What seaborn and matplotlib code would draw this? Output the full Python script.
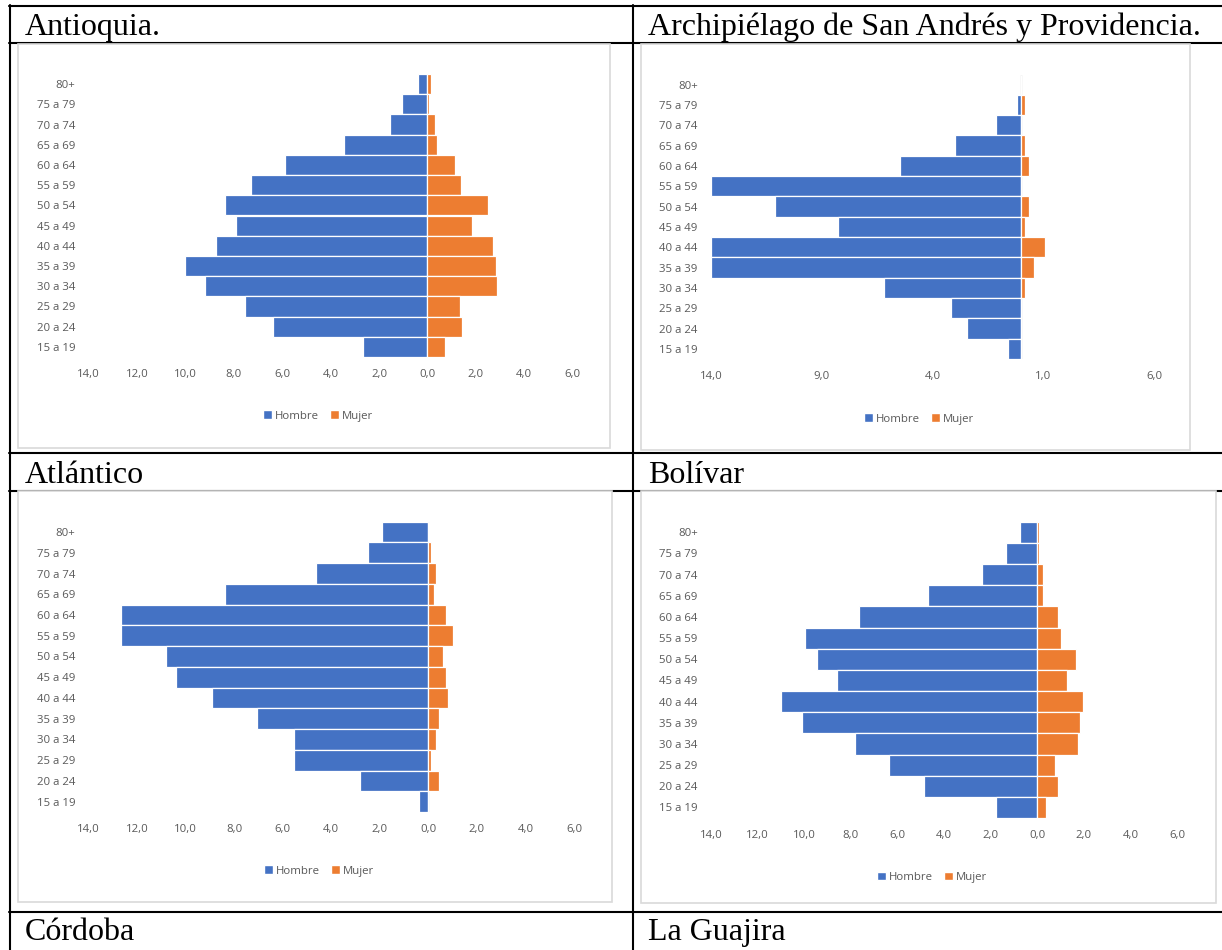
import matplotlib
matplotlib.use("Agg")
import matplotlib.pyplot as plt
import seaborn as sns
from matplotlib.lines import Line2D
from matplotlib.patches import Rectangle, Patch
from matplotlib.ticker import FuncFormatter

# age groups, top to bottom as drawn
ages = ['80+', '75 a 79', '70 a 74', '65 a 69', '60 a 64', '55 a 59', '50 a 54',
        '45 a 49', '40 a 44', '35 a 39', '30 a 34', '25 a 29', '20 a 24', '15 a 19']

# percentages (Hombre drawn to the left)
antioquia_h = [0.4, 1.05, 1.55, 3.45, 5.9, 7.3, 8.35, 7.9, 8.75, 10.0, 9.2, 7.55, 6.4, 2.65]
antioquia_m = [0.15, 0.05, 0.32, 0.4, 1.15, 1.38, 2.5, 1.84, 2.7, 2.83, 2.88, 1.35, 1.43, 0.73]

sanandres_h = [0.0, 0.2, 1.14, 3.0, 5.45, 14.0, 11.1, 8.25, 14.0, 14.0, 6.2, 3.15, 2.45, 0.57]
sanandres_m = [0.0, 0.16, 0.0, 0.16, 0.37, 0.0, 0.37, 0.16, 1.1, 0.56, 0.16, 0.0, 0.0, 0.0]

atlantico_h = [1.9, 2.5, 4.65, 8.4, 12.65, 12.65, 10.8, 10.4, 8.9, 7.05, 5.55, 5.55, 2.8, 0.37]
atlantico_m = [0.02, 0.12, 0.3, 0.22, 0.72, 1.03, 0.62, 0.72, 0.82, 0.42, 0.3, 0.1, 0.42, 0.0]

bolivar_h = [0.75, 1.34, 2.35, 4.7, 7.65, 9.95, 9.45, 8.6, 11.0, 10.1, 7.8, 6.35, 4.85, 1.75]
bolivar_m = [0.06, 0.06, 0.24, 0.27, 0.88, 1.04, 1.65, 1.27, 1.95, 1.82, 1.77, 0.77, 0.91, 0.39]

titles = ['Antioquia.', 'Archipiélago de San Andrés y Providencia.', 'Atlántico', 'Bolívar',
          'Córdoba', 'La Guajira']

BLUE = '#4472C4'
ORANGE = '#ED7D31'
GREY_TXT = '#595959'
GREY_LINE = '#D9D9D9'

W, H = 1222, 950

sns.set_style('white')
plt.rcParams['font.family'] = ['Open Sans', 'DejaVu Sans']

fig = plt.figure(figsize=(W / 100, H / 100), dpi=100)
fig.patch.set_facecolor('white')


def fx(x):
    return x / W


def fy(y):
    return 1 - y / H


def hline(y, x0, x1):
    fig.add_artist(Line2D([fx(x0), fx(x1)], [fy(y), fy(y)], color='black', lw=1.5,
                          transform=fig.transFigure, zorder=-3))


def vline(x, y0, y1):
    fig.add_artist(Line2D([fx(x), fx(x)], [fy(y0), fy(y1)], color='black', lw=1.5,
                          transform=fig.transFigure, zorder=-3))


# table grid
for y in [6, 43, 452.7, 491, 912]:
    hline(y, 8.8, W)
vline(9.5, 5.3, H)
vline(632.7, 5.3, H)

# cell headings
heads = [(25, 35), (648, 35), (25, 483), (648, 483), (25, 940), (648, 940)]
for t, (x, y) in zip(titles, heads):
    fig.text(fx(x), fy(y), t, family='Liberation Serif', fontsize=23.0,
             ha='left', va='baseline', color='black')

# chart panels: box, plot area (x of -14 and 6, top/bottom of bars), ticks, legend
panels = [
    dict(h=antioquia_h, m=antioquia_m, box=(18, 44, 610, 448), ax=(88.6, 74, 572.6, 357),
         ticks=list(range(-14, 7, 2)), leg=(318, 416)),
    dict(h=sanandres_h, m=sanandres_m, box=(641, 44, 1190, 450), ax=(711, 74.5, 1154, 359),
         ticks=[-14, -9, -4, 1, 6], leg=(919, 419)),
    dict(h=atlantico_h, m=atlantico_m, box=(18, 491, 612, 902), ax=(88.6, 521.7, 574, 812),
         ticks=list(range(-14, 7, 2)), leg=(319, 871)),
    dict(h=bolivar_h, m=bolivar_m, box=(641, 491, 1216, 903), ax=(711, 521.7, 1177, 818),
         ticks=list(range(-14, 7, 2)), leg=(932, 877.7)),
]

fmt = FuncFormatter(lambda v, p: f"{abs(v):.1f}".replace('.', ','))

for p in panels:
    bx0, by0, bx1, by1 = p['box']
    fig.add_artist(Rectangle((fx(bx0), fy(by1)), fx(bx1) - fx(bx0), fy(by0) - fy(by1),
                             transform=fig.transFigure, facecolor='white',
                             edgecolor=GREY_LINE, lw=1.2, zorder=-1))

    ax0, ay0, ax1, ay1 = p['ax']
    ax = fig.add_axes([fx(ax0), fy(ay1), fx(ax1) - fx(ax0), fy(ay0) - fy(ay1)])
    ax.set_facecolor('none')

    sns.barplot(x=[-v for v in p['h']], y=ages, order=ages, orient='h', color=BLUE,
                saturation=1, width=1.0, edgecolor='white', linewidth=0.9, ax=ax)
    sns.barplot(x=p['m'], y=ages, order=ages, orient='h', color=ORANGE,
                saturation=1, width=1.0, edgecolor='white', linewidth=0.9, ax=ax)
    ax.axvline(0, color=GREY_LINE, lw=1.0, zorder=0.5)

    ax.set_xlim(-14, 6)
    ax.set_ylim(len(ages) - 0.5, -0.5)
    ax.set_xticks(p['ticks'])
    ax.xaxis.set_major_formatter(fmt)
    ax.set_xlabel('')
    ax.set_ylabel('')
    ax.tick_params(axis='both', length=0, labelsize=8.2, labelcolor=GREY_TXT)
    ax.tick_params(axis='y', pad=9.5)
    ax.tick_params(axis='x', pad=8.5)
    for s in ax.spines.values():
        s.set_visible(False)

    lx, ly = p['leg']
    handles = [Patch(facecolor=BLUE), Patch(facecolor=ORANGE)]
    fig.legend(handles, ['Hombre', 'Mujer'], loc='center', bbox_to_anchor=(fx(lx), fy(ly)),
               ncol=2, frameon=False, fontsize=8.2, labelcolor=GREY_TXT,
               handlelength=0.75, handleheight=0.75, handletextpad=0.25, columnspacing=1.0)

fig.savefig('out.png', dpi=100, facecolor='white')
